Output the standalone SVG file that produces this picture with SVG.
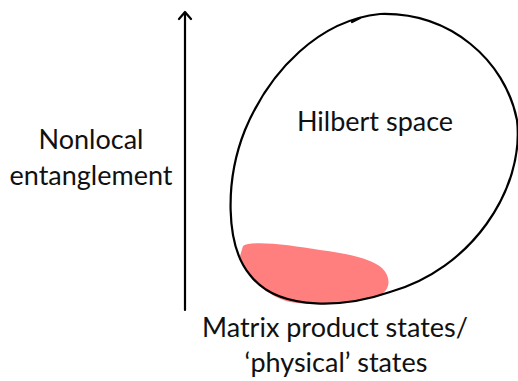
<svg xmlns="http://www.w3.org/2000/svg" width="518" height="381" viewBox="0 0 518 381">
<style>
text{font-family:Lato,"Open Sans","DejaVu Sans",sans-serif;font-size:27px;fill:#111;text-anchor:middle}
.ln{fill:none;stroke:#000;stroke-width:2.2;stroke-linecap:round;stroke-linejoin:round}
</style>
<rect width="518" height="381" fill="#fff"/>
<g id="mps">
<path d="M 243 246 C 252 240 290 245 320 250 C 350 254 372 259 382 268 C 392 278 391 292 376 297 C 350 303 312 306 290 302 C 265 296 246 276 240 256 Z" fill="#ff7f7f"/>
</g>
<g id="hilbert">
<path class="ln" d="M 380 14 C 450 12 505 60 517 120 C 525 190 470 270 390 292 C 350 306 280 314 250 275 C 225 245 225 180 245 130 C 270 70 320 20 380 14 Z"/>
<path class="ln" d="M 352 22 L 360 18"/>
<text x="375" y="131">Hilbert space</text>
</g>
<g id="connectors">
<path class="ln" d="M 185 310 L 185 12 M 179 19 L 185 12 L 191 19"/>
</g>
<g id="labels">
<text x="91" y="149">Nonlocal</text>
<text x="91" y="185">entanglement</text>
<text x="335" y="337">Matrix product states/</text>
<text x="336" y="372">‘physical’ states</text>
</g>
</svg>
